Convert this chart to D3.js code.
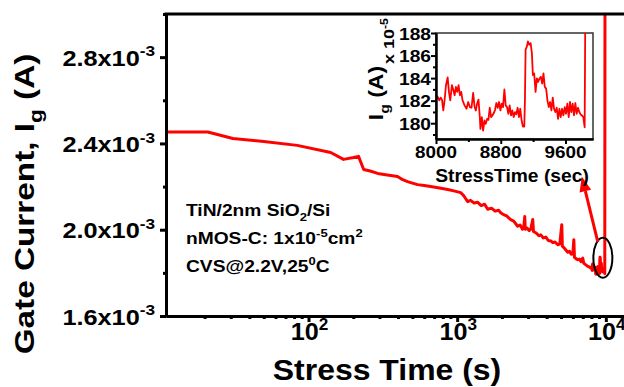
<!DOCTYPE html>
<html>
<head>
<meta charset="utf-8">
<script src="https://cdn.jsdelivr.net/npm/d3@7"></script>
<style>
body { margin: 0; background: #fff; }
text { font-family: "Liberation Sans", Arial, sans-serif; font-weight: bold; fill: #000; }
</style>
</head>
<body>
<svg id="chart" width="624" height="387"></svg>
<script>
// main trace up to 8000 s, current in units of 1e-3 A
const mainTime = [11, 21, 31, 50, 84, 141, 172, 201, 217, 235, 260, 292, 330, 397, 430, 464, 500, 542, 600, 663, 760, 864, 950,
    1056, 1100, 1130, 1177, 1230, 1300, 1375, 1450, 1530, 1605, 1700, 1800, 1900, 1962, 2050, 2150, 2291, 2400, 2553, 2650,
    2750, 2800, 2849, 2870, 2950, 3050, 3126, 3224, 3260, 3400, 3550, 3650, 3800, 3950, 4100, 4263, 4400, 4550, 4750, 4900,
    5054, 5100, 5250, 5400, 5546, 5700, 5850, 6000, 6092, 6150, 6300, 6468, 6650, 6800, 6995, 7100, 7300, 7565, 7800];
const mainCurrent = [2.453, 2.453, 2.423, 2.409, 2.391, 2.358, 2.326, 2.335, 2.340, 2.279, 2.272, 2.261, 2.255, 2.247, 2.232,
    2.223, 2.216, 2.209, 2.205, 2.200, 2.193, 2.186, 2.180,
    2.172, 2.160, 2.148, 2.130, 2.136, 2.124, 2.127, 2.112, 2.118, 2.095, 2.100, 2.086, 2.090, 2.079, 2.070, 2.064, 2.047,
    2.040, 2.016, 2.022, 2.002, 2.008, 2.061, 2.002, 2.008, 1.996, 2.003, 2.047, 1.992, 1.985, 1.972, 1.976, 1.962, 1.966,
    1.950, 1.948, 1.940, 1.943, 1.930, 1.934, 2.023, 1.924, 1.915, 1.905, 1.896, 1.900, 1.886, 1.888, 1.954, 1.872, 1.866,
    1.861, 1.864, 1.852, 1.868, 1.845, 1.838, 1.830, 1.826];
// breakdown point at the end of the main trace (goes off the top)
const breakTime = [10100];
const breakCurrent = [12];

// inset trace, current in units of 1e-5 A
const insetTime = [8000, 8016, 8041, 8057, 8074, 8090, 8107, 8123, 8144, 8160, 8176, 8197, 8213, 8230, 8246, 8262, 8279, 8295,
    8312, 8328, 8353, 8377, 8398, 8418, 8439, 8459, 8476, 8492, 8508, 8525, 8541, 8549, 8566, 8582, 8599, 8615, 8632, 8648,
    8664, 8681, 8697, 8714, 8730, 8746, 8763, 8779, 8796, 8812, 8828, 8845, 8861, 8878, 8894, 8910, 8927, 8943, 8960, 8976,
    8992, 9009, 9025, 9041, 9058, 9074, 9091, 9099, 9107, 9123, 9136, 9152, 9169, 9185, 9197, 9213, 9230, 9246, 9262, 9279,
    9295, 9312, 9328, 9344, 9361, 9377, 9394, 9410, 9426, 9443, 9459, 9476, 9492, 9508, 9525, 9541, 9558, 9574, 9591, 9607,
    9623, 9640, 9656, 9672, 9689, 9705, 9722, 9738, 9755, 9771, 9787, 9804, 9820, 9837, 9845];
const insetCurrent = [182.03, 182.39, 182.03, 182.27, 182.09, 181.13, 182.09, 183.37, 184.06, 182.78, 182.03, 183.37, 182.99,
    182.48, 183.22, 182.78, 183.37, 182.48, 182.78, 182.03, 181.58, 181.28, 181.88, 181.43, 181.37, 182.69, 181.49, 181.13,
    181.73, 182.09, 180.60, 179.49, 180.54, 179.34, 180.24, 179.94, 180.39, 180.30, 181.37, 180.54, 180.69, 180.90, 181.19,
    181.79, 181.37, 181.88, 181.13, 181.73, 181.43, 182.99, 181.58, 181.43, 180.84, 181.58, 180.69, 181.13, 180.54, 180.99,
    180.78, 181.37, 180.54, 181.28, 180.24, 179.70, 179.70, 182.03, 186.51, 186.81, 187.25, 186.96, 187.10, 186.21, 184.27,
    184.42, 182.78, 183.97, 183.67, 183.97, 184.12, 183.52, 184.42, 183.22, 183.07, 182.03, 181.43, 181.88, 181.13, 182.27,
    181.28, 180.99, 181.37, 180.39, 181.28, 180.54, 181.28, 180.69, 181.43, 180.84, 181.73, 180.54, 181.88, 180.99, 181.73,
    180.69, 181.79, 180.84, 181.37, 180.99, 180.78, 180.69, 180.54, 179.64, 190];

const yTickValues = [1.6, 2.0, 2.4, 2.8];
const yTickLabels = ["1.6x10", "2.0x10", "2.4x10", "2.8x10"];
const yTickExp = "-3";
const yMinorTicks = [1.8, 2.2, 2.6, 3.0];
const xTickValues = [100, 1000, 10000];
const xTickLabels = ["10", "10", "10"];
const xTickExps = ["2", "3", "4"];
const insetYTicks = [180, 182, 184, 186, 188];
const insetYMinor = [179, 181, 183, 185, 187];
const insetXTicks = [8000, 8800, 9600];
const insetXMinor = [8400, 9200];

const notes = [
    [["TiN/2nm SiO", ""], ["2", "sub"], ["/Si", ""]],
    [["nMOS-C: 1x10", ""], ["-5", "sup"], ["cm", ""], ["2", "sup"]],
    [["CVS@2.2V,25", ""], ["0", "sup"], ["C", ""]]
];

const red = "#ff0000";
const svg = d3.select("#chart");

// main plot area
const mLeft = 166, mTop = 14, mBottom = 316, mRight = 643;
const x = d3.scaleLog().domain([11, Math.pow(10, 4.25)]).range([mLeft, mRight]);
const y = d3.scaleLinear().domain([1.6, 3.0]).range([mBottom, mTop]);

// text with super/subscripts, stretched horizontally like the original
function richText(parent, px, py, segs, size, anchor, sx, rot) {
    const g = parent.append("g")
        .attr("transform", `translate(${px},${py})` + (rot ? ` rotate(${rot})` : "") + ` scale(${sx},1)`);
    const t = g.append("text").attr("text-anchor", anchor).style("font-size", size + "px");
    let shift = 0;
    segs.forEach(([s, kind]) => {
        const target = kind === "sup" ? -0.42 * size : kind === "sub" ? 0.3 * size : 0;
        t.append("tspan")
            .attr("dy", target - shift)
            .style("font-size", (kind ? 0.68 * size : size) + "px")
            .text(s);
        shift = target;
    });
    return g;
}

svg.append("clipPath").attr("id", "mainClip")
    .append("rect").attr("x", mLeft).attr("y", mTop).attr("width", mRight - mLeft).attr("height", mBottom - mTop);

const mainPts = mainTime.map((t, i) => [t, mainCurrent[i]])
    .concat(insetTime.slice(0, -1).map((t, i) => [t, insetCurrent[i] / 100]))
    .concat(breakTime.map((t, i) => [t, breakCurrent[i]]));

svg.append("path")
    .datum(mainPts)
    .attr("clip-path", "url(#mainClip)")
    .attr("fill", "none")
    .attr("stroke", red)
    .attr("stroke-width", 3)
    .attr("stroke-linejoin", "round")
    .attr("d", d3.line().x(d => x(d[0])).y(d => y(d[1])));

// ellipse marking the end of the trace
svg.append("ellipse")
    .attr("cx", x(9550))
    .attr("cy", y(1.87))
    .attr("rx", 9.5)
    .attr("ry", 20)
    .attr("fill", "none")
    .attr("stroke", "#000")
    .attr("stroke-width", 2);

// arrow pointing to the inset
const a0 = [x(8830), y(1.944)], a1 = [x(6890), y(2.2465)];
const dx = a1[0] - a0[0], dy = a1[1] - a0[1], len = Math.hypot(dx, dy);
const ux = dx / len, uy = dy / len, headLen = 15, headW = 6;
const hb = [a1[0] - ux * headLen, a1[1] - uy * headLen];
svg.append("line")
    .attr("x1", a0[0]).attr("y1", a0[1])
    .attr("x2", hb[0]).attr("y2", hb[1])
    .attr("stroke", red).attr("stroke-width", 3);
svg.append("polygon")
    .attr("points", [a1, [hb[0] - uy * headW, hb[1] + ux * headW], [hb[0] + uy * headW, hb[1] - ux * headW]].map(p => p.join(",")).join(" "))
    .attr("fill", red);

// main axes
const axisStyle = g => {
    g.selectAll("path, line").attr("stroke", "#000").attr("stroke-width", 3);
    g.selectAll("text").remove();
};
svg.append("g").attr("transform", `translate(${mLeft},0)`)
    .call(d3.axisLeft(y).tickValues(yTickValues).tickSize(6).tickSizeOuter(0))
    .call(axisStyle);
svg.append("g").attr("transform", `translate(${mLeft},0)`)
    .call(d3.axisLeft(y).tickValues(yMinorTicks).tickSize(3).tickSizeOuter(0))
    .call(axisStyle);
const xMinor = [];
[10, 100, 1000].forEach(d => { for (let k = 2; k <= 9; k++) if (d * k > 11) xMinor.push(d * k); });
svg.append("g").attr("transform", `translate(0,${mBottom})`)
    .call(d3.axisBottom(x).tickValues(xTickValues).tickSize(6).tickSizeOuter(0))
    .call(axisStyle);
svg.append("g").attr("transform", `translate(0,${mBottom})`)
    .call(d3.axisBottom(x).tickValues(xMinor).tickSize(3).tickSizeOuter(0))
    .call(axisStyle);
svg.append("line")
    .attr("x1", mLeft - 1.5).attr("x2", mRight)
    .attr("y1", mTop).attr("y2", mTop)
    .attr("stroke", "#000").attr("stroke-width", 3);

yTickValues.forEach((v, i) => {
    richText(svg, mLeft - 11, y(v) + 8.5, [[yTickLabels[i], ""], [yTickExp, "sup"]], 22, "end", 1.15);
});
xTickValues.forEach((v, i) => {
    richText(svg, x(v) + 1, mBottom + 24, [[xTickLabels[i], ""], [xTickExps[i], "sup"]], 24, "middle", 1.05);
});

richText(svg, 387, 380, [["Stress Time (s)", ""]], 30, "middle", 1.065);
richText(svg, 34, 204, [["Gate Current, I", ""], ["g", "sub"], [" (A)", ""]], 28, "middle", 1.19, -90);

notes.forEach((segs, i) => {
    richText(svg, 186, 216 + i * 28, segs, 16, "start", 1.2);
});

// inset
const iLeft = 436, iRight = 593, iTop = 33, iBottom = 139;
const ix = d3.scaleLinear().domain([8000, 9940]).range([iLeft, iRight]);
const iy = d3.scaleLinear().domain([178.6, 188]).range([iBottom, iTop]);

svg.append("rect")
    .attr("x", iLeft).attr("y", iTop)
    .attr("width", iRight - iLeft).attr("height", iBottom - iTop)
    .attr("fill", "#fff")
    .attr("stroke", "#333")
    .attr("stroke-width", 1.5);
svg.append("clipPath").attr("id", "insetClip")
    .append("rect").attr("x", iLeft).attr("y", iTop).attr("width", iRight - iLeft).attr("height", iBottom - iTop);
svg.append("path")
    .datum(insetTime.map((t, i) => [t, insetCurrent[i]]))
    .attr("clip-path", "url(#insetClip)")
    .attr("fill", "none")
    .attr("stroke", red)
    .attr("stroke-width", 1.8)
    .attr("stroke-linejoin", "round")
    .attr("d", d3.line().x(d => ix(d[0])).y(d => iy(d[1])));

const insetAxisStyle = g => {
    g.selectAll("path, line").attr("stroke", "#000").attr("stroke-width", 2);
    g.selectAll("text").remove();
};
svg.append("g").attr("transform", `translate(${iLeft},0)`)
    .call(d3.axisLeft(iy).tickValues(insetYTicks).tickSize(5).tickSizeOuter(0))
    .call(insetAxisStyle);
svg.append("g").attr("transform", `translate(${iLeft},0)`)
    .call(d3.axisLeft(iy).tickValues(insetYMinor).tickSize(3).tickSizeOuter(0))
    .call(insetAxisStyle);
svg.append("g").attr("transform", `translate(0,${iBottom})`)
    .call(d3.axisBottom(ix).tickValues(insetXTicks).tickSize(5).tickSizeOuter(0))
    .call(insetAxisStyle);
svg.append("g").attr("transform", `translate(0,${iBottom})`)
    .call(d3.axisBottom(ix).tickValues(insetXMinor).tickSize(3).tickSizeOuter(0))
    .call(insetAxisStyle);

insetYTicks.forEach(v => {
    richText(svg, iLeft - 5, iy(v) + 6.5, [[String(v), ""]], 17, "end", 1.13);
});
insetXTicks.forEach(v => {
    richText(svg, ix(v), iBottom + 19, [[String(v), ""]], 17, "middle", 1.11);
});
richText(svg, 512, 182, [["StressTime (sec)", ""]], 18, "middle", 1.07);
richText(svg, 383, 93, [["I", ""], ["g", "sub"], [" (A)", ""]], 20, "middle", 1.15, -90);
richText(svg, 394, 41, [["x 10", ""], ["-5", "sup"]], 15, "middle", 1.2, -90);
</script>
</body>
</html>
